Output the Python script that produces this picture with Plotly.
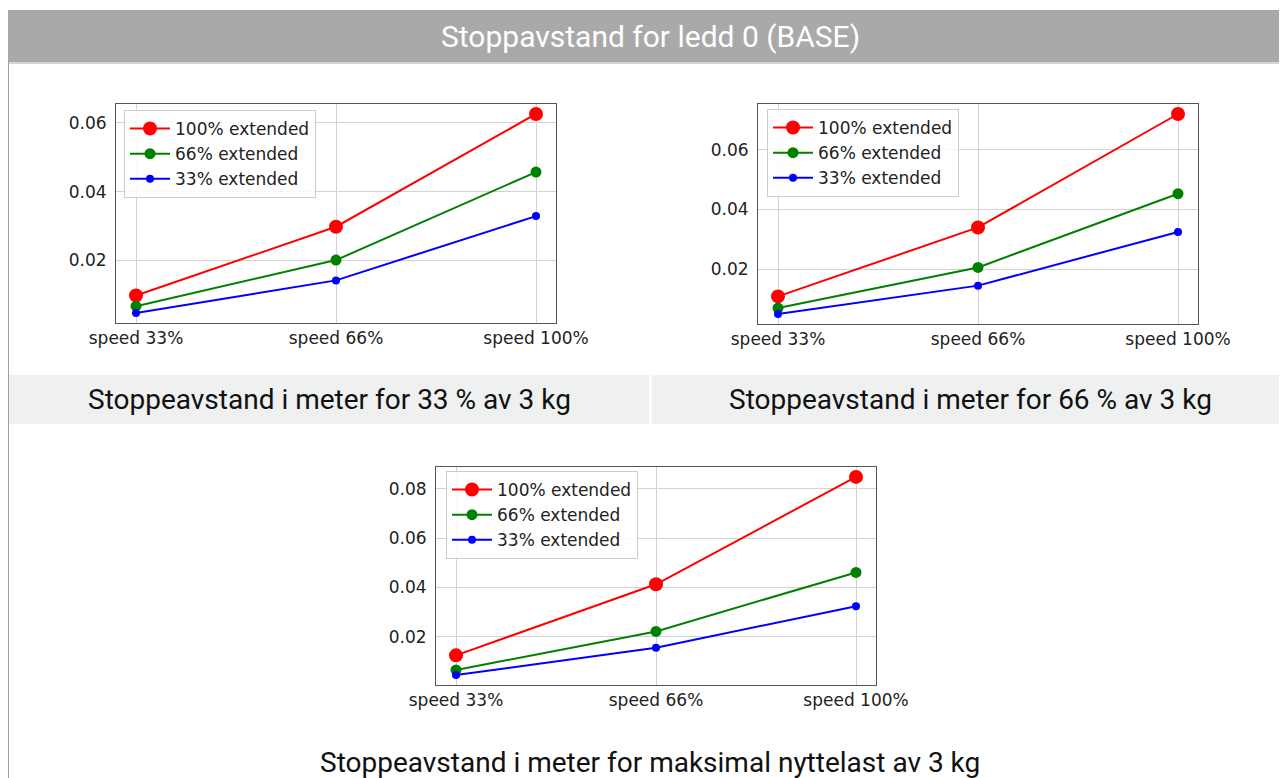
import plotly.graph_objects as go

# the page body adds an 8 px offset, so the figure is 8 px smaller
W, H = 1279, 770
OFF = 8

speeds = ["speed 33%", "speed 66%", "speed 100%"]
series_names = ["100% extended", "66% extended", "33% extended"]

# stopping distance (m) per payload case
load33_ext100 = [0.0098, 0.0298, 0.0626]
load33_ext66 = [0.0067, 0.0201, 0.0457]
load33_ext33 = [0.0047, 0.0142, 0.0329]

load66_ext100 = [0.0109, 0.0340, 0.0720]
load66_ext66 = [0.0070, 0.0206, 0.0453]
load66_ext33 = [0.0050, 0.0145, 0.0325]

loadmax_ext100 = [0.0125, 0.0413, 0.0848]
loadmax_ext66 = [0.0066, 0.0222, 0.0461]
loadmax_ext33 = [0.0045, 0.0156, 0.0324]

page_title = "Stoppavstand for ledd 0 (BASE)"
captions = [
    "Stoppeavstand i meter for 33 % av 3 kg",
    "Stoppeavstand i meter for 66 % av 3 kg",
    "Stoppeavstand i meter for maksimal nyttelast av 3 kg",
]

colors = ["#ff0000", "#008000", "#0000ff"]
msizes = [14, 11, 8]


def px(x):
    # screen pixel -> paper fraction
    return (x - OFF) / W


def py(y):
    return 1 - (y - OFF) / H


# screen pixel boxes of the three plot areas (left, right, top, bottom)
boxes = [(116, 556, 104, 323), (758, 1198, 104, 324), (436, 876, 467, 685)]
legend_pos = [(124, 110), (767, 109), (446, 471)]
groups = [
    [load33_ext100, load33_ext66, load33_ext33],
    [load66_ext100, load66_ext66, load66_ext33],
    [loadmax_ext100, loadmax_ext66, loadmax_ext33],
]

fig = go.Figure()
layout = dict(
    width=W, height=H,
    margin=dict(l=0, r=0, t=0, b=0, autoexpand=False),
    paper_bgcolor="white",
    plot_bgcolor="white",
    showlegend=True,
)

for i, (vals, box) in enumerate(zip(groups, boxes)):
    n = "" if i == 0 else str(i + 1)
    for name, v, c, s in zip(series_names, vals, colors, msizes):
        fig.add_trace(go.Scatter(
            x=speeds, y=v, name=name, mode="lines+markers",
            line=dict(color=c, width=2),
            marker=dict(color=c, size=s),
            xaxis="x" + n, yaxis="y" + n,
            legend="legend" + n,
        ))
    lo = min(min(v) for v in vals)
    hi = max(max(v) for v in vals)
    pad = (hi - lo) * 0.05
    l, r, t, b = box
    axis_common = dict(
        showline=True, mirror=True, linecolor="#555555", linewidth=1,
        showgrid=True, gridcolor="#d3d3d3", gridwidth=1,
        zeroline=False, ticks="", automargin=False,
        tickfont=dict(family="DejaVu Sans", size=17, color="#222222"),
    )
    layout["xaxis" + n] = dict(
        axis_common, domain=[px(l), px(r)], range=[-0.1, 2.1],
        type="category", anchor="y" + n,
    )
    layout["yaxis" + n] = dict(
        axis_common, domain=[py(b), py(t)], range=[lo - pad, hi + pad],
        dtick=0.02, tickformat=".2f", anchor="x" + n, ticklabelstandoff=5,
    )
    lx, ly = legend_pos[i]
    layout["legend" + n] = dict(
        x=px(lx), y=py(ly), xanchor="left", yanchor="top",
        bgcolor="rgba(255,255,255,0.85)", bordercolor="#cccccc", borderwidth=1,
        font=dict(family="DejaVu Sans", size=17, color="#222222"),
        itemsizing="trace", itemwidth=40,
    )

fig.update_layout(**layout)

shapes = [
    # header band
    dict(type="rect", x0=px(8), x1=1, y0=py(62), y1=py(10),
         fillcolor="#a9a9a9", line_width=0),
    dict(type="line", x0=px(8), x1=1, y0=py(63), y1=py(63),
         line=dict(color="#d4d4d4", width=2)),
    # left page border
    dict(type="line", x0=px(8.5), x1=px(8.5), y0=py(62), y1=0,
         line=dict(color="#a0a0a0", width=1)),
    # caption band
    dict(type="rect", x0=px(9), x1=px(649), y0=py(424), y1=py(375),
         fillcolor="#eff0f0", line_width=0),
    dict(type="rect", x0=px(652), x1=1, y0=py(424), y1=py(375),
         fillcolor="#eff0f0", line_width=0),
]
for s in shapes:
    s.update(xref="paper", yref="paper", layer="below")
fig.update_layout(shapes=shapes)

fig.add_annotation(
    text=page_title, x=px(650), y=py(37), xref="paper", yref="paper",
    xanchor="center", yanchor="middle",
    showarrow=False, font=dict(family="Roboto", size=30, color="white"),
)
for text, (cx, cy) in zip(captions, [(329, 400), (970, 400), (650, 762)]):
    fig.add_annotation(
        text=text, x=px(cx), y=py(cy), xref="paper", yref="paper",
        xanchor="center", yanchor="middle",
        showarrow=False, font=dict(family="Roboto", size=28, color="#111111"),
    )

fig.write_html("out.html")
